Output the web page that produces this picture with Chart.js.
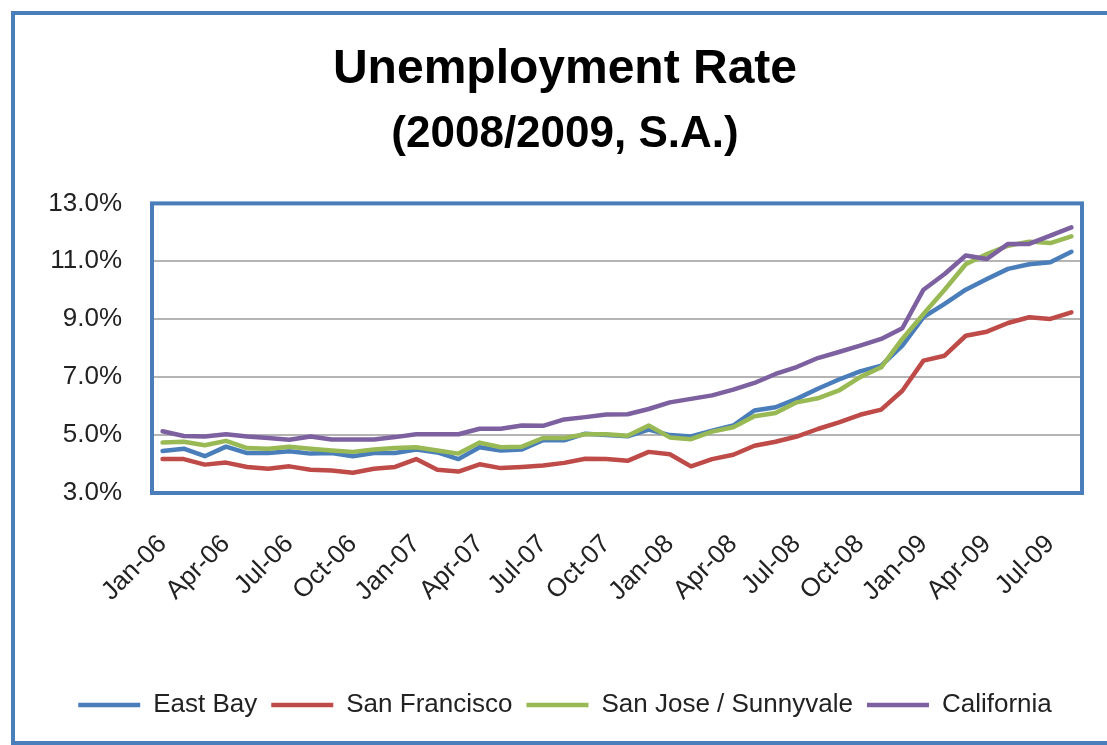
<!DOCTYPE html>
<html>
<head>
<meta charset="utf-8">
<script src="https://cdn.jsdelivr.net/npm/chart.js@4.4.1/dist/chart.umd.min.js"></script>
<style>
  html, body { margin: 0; padding: 0; background: #fff; overflow: hidden; }
  #frame {
    position: absolute; left: 11px; top: 11px;
    width: 1200px; height: 734px;
    box-sizing: border-box;
    border: 4px solid #4a7ebb;
  }
  #myChart { position: absolute; left: 0; top: 0; }
</style>
</head>
<body>
<div id="frame"></div>
<canvas id="myChart" width="1130" height="745"></canvas>
<script>
const months = [
  'Jan-06','Feb-06','Mar-06','Apr-06','May-06','Jun-06','Jul-06','Aug-06','Sep-06','Oct-06','Nov-06','Dec-06',
  'Jan-07','Feb-07','Mar-07','Apr-07','May-07','Jun-07','Jul-07','Aug-07','Sep-07','Oct-07','Nov-07','Dec-07',
  'Jan-08','Feb-08','Mar-08','Apr-08','May-08','Jun-08','Jul-08','Aug-08','Sep-08','Oct-08','Nov-08','Dec-08',
  'Jan-09','Feb-09','Mar-09','Apr-09','May-09','Jun-09','Jul-09','Aug-09'
]

const eastBay = [4.45,4.53,4.27,4.60,4.38,4.38,4.44,4.36,4.38,4.27,4.38,4.38,
  4.50,4.40,4.17,4.58,4.47,4.50,4.82,4.82,5.05,5.00,4.96,5.19,
  5.00,4.95,5.15,5.33,5.85,5.96,6.25,6.60,6.92,7.20,7.40,8.09,
  9.07,9.53,10.02,10.39,10.74,10.90,10.97,11.33]

const sanFrancisco = [4.17,4.17,3.98,4.05,3.90,3.84,3.92,3.80,3.78,3.70,3.84,3.90,
  4.17,3.80,3.74,3.99,3.86,3.90,3.95,4.04,4.18,4.17,4.11,4.42,
  4.34,3.92,4.17,4.32,4.63,4.77,4.95,5.21,5.44,5.70,5.88,6.53,
  7.57,7.74,8.43,8.57,8.87,9.07,9.01,9.24]

const sanJose = [4.74,4.77,4.65,4.80,4.55,4.53,4.60,4.53,4.47,4.42,4.50,4.55,
  4.58,4.47,4.36,4.74,4.58,4.60,4.90,4.90,5.03,5.03,4.98,5.33,
  4.92,4.86,5.12,5.27,5.65,5.76,6.13,6.27,6.54,7.00,7.34,8.32,
  9.18,10.02,10.90,11.25,11.54,11.68,11.63,11.86]

const california = [5.13,4.97,4.95,5.03,4.95,4.90,4.84,4.95,4.85,4.85,4.85,4.93,
  5.03,5.03,5.03,5.22,5.22,5.33,5.32,5.54,5.62,5.71,5.72,5.90,
  6.13,6.25,6.37,6.57,6.80,7.11,7.35,7.66,7.87,8.09,8.32,8.69,
  10.02,10.56,11.20,11.08,11.60,11.60,11.89,12.17]

const yTicks = [3, 5, 7, 9, 11, 13]

const font = "'Liberation Sans', Arial, sans-serif"
const frameBlue = '#4a7ebb'

function series(label, data, color, order){
  return {
    label: label,
    data: data,
    borderColor: color,
    backgroundColor: color,
    borderWidth: 4.5,
    pointRadius: 0,
    tension: 0,
    borderJoinStyle: 'round',
    borderCapStyle: 'round',
    order: order
  }
}

// blue box round the plot area
const plotBorder = {
  id: 'plotBorder',
  afterDatasetsDraw(chart){
    const a = chart.chartArea
    const c = chart.ctx
    c.save()
    c.strokeStyle = frameBlue
    c.lineWidth = 4
    c.strokeRect(a.left, a.top, a.right - a.left, a.bottom - a.top)
    c.restore()
  }
}

const ctx = document.getElementById('myChart')
const myChart = new Chart(ctx, {
  type: 'line',
  data: {
    labels: months,
    datasets: [
      series('East Bay', eastBay, '#4a7ebb', 3),
      series('San Francisco', sanFrancisco, '#be4b48', 2),
      series('San Jose / Sunnyvale', sanJose, '#98b954', 1),
      series('California', california, '#7d60a0', 0)
    ]
  },
  options: {
    responsive: false,
    animation: false,
    layout: {
      // equal side padding keeps title and legend centred on the frame
      padding: { top: 12, right: 48, bottom: 17, left: 48 }
    },
    plugins: {
      title: {
        display: true,
        text: 'Unemployment Rate',
        color: '#000',
        font: { family: font, size: 48, weight: 'bold' },
        padding: { top: 29, bottom: 10 }
      },
      subtitle: {
        display: true,
        text: '(2008/2009, S.A.)',
        color: '#000',
        font: { family: font, size: 44, weight: 'bold' },
        padding: { top: 0, bottom: 42 }
      },
      legend: {
        position: 'bottom',
        labels: {
          usePointStyle: true,
          pointStyle: 'line',
          pointStyleWidth: 62,
          padding: 14,
          color: '#222',
          font: { family: font, size: 26 },
          sort: (a, b) => a.datasetIndex - b.datasetIndex
        }
      },
      tooltip: { enabled: false }
    },
    scales: {
      x: {
        offset: true,
        grid: { display: false, drawTicks: false },
        border: { display: false },
        afterFit: (scale) => { scale.height = 185 },
        ticks: {
          autoSkip: false,
          minRotation: 45,
          maxRotation: 45,
          padding: 36,
          color: '#222',
          font: { family: font, size: 26 },
          callback: function(value, index){
            return index % 3 === 0 ? months[index] : null
          }
        }
      },
      y: {
        min: yTicks[0],
        max: yTicks[yTicks.length - 1],
        afterFit: (scale) => { scale.width = 104 },
        afterBuildTicks: (scale) => { scale.ticks = yTicks.map(v => ({ value: v })) },
        grid: { color: '#b4b4b4', lineWidth: 2, drawTicks: false },
        border: { display: false },
        ticks: {
          padding: 30,
          color: '#222',
          font: { family: font, size: 26 },
          callback: (v) => v.toFixed(1) + '%'
        }
      }
    }
  },
  plugins: [plotBorder]
})
</script>
</body>
</html>
